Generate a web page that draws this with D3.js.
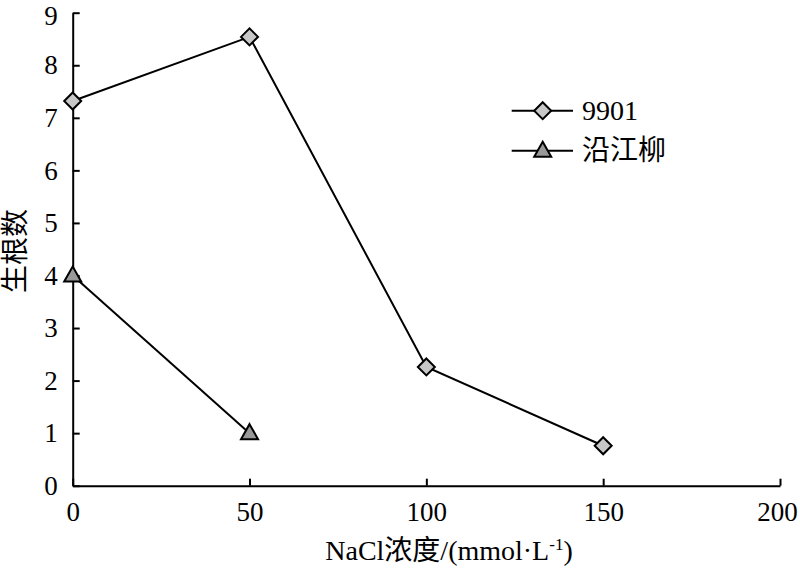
<!DOCTYPE html>
<html><head><meta charset="utf-8">
<script src="https://cdn.jsdelivr.net/npm/d3@7"></script>
<style>body{margin:0;background:#fff} text{font-family:"Liberation Serif","Times New Roman","Noto Sans CJK SC",serif;}</style>
</head><body>
<svg id="c" width="800" height="571"></svg>
<script>
const xTicks = [0, 50, 100, 150, 200];
const yTicks = [0, 1, 2, 3, 4, 5, 6, 7, 8, 9];
const seriesNames = ["9901", "沿江柳"];
const x9901 = [0, 50, 100, 150];
const y9901 = [7.32, 8.54, 2.26, 0.76];
const xYjl = [0, 50];
const yYjl = [4.0, 1.0];
const xTitle = "NaCl浓度/(mmol·L";
const yTitle = "生根数";

const svg = d3.select("#c");
const FS = 27;
const x = d3.scaleLinear().domain([0, 200]).range([72.7, 780]);
const y = d3.scaleLinear().domain([0, 9]).range([485.7, 12.7]);

const xAxis = svg.append("g").attr("transform", `translate(0,${y(0)})`)
  .call(d3.axisBottom(x).tickValues(xTicks).tickSize(-7).tickPadding(17).tickSizeOuter(0));
const yAxis = svg.append("g").attr("transform", `translate(${x(0)},0)`)
  .call(d3.axisLeft(y).tickValues(yTicks).tickSize(-7).tickPadding(15).tickSizeOuter(0));
[xAxis, yAxis].forEach(a => {
  a.attr("font-family", null).attr("font-size", null);
  a.selectAll("path").attr("stroke", "#000").attr("stroke-width", 2);
  a.selectAll("line").attr("stroke", "#000").attr("stroke-width", 2);
  a.selectAll("text").attr("font-size", FS).attr("fill", "#000");
});
xAxis.selectAll("text").attr("dy", "0.68em");
xAxis.selectAll(".tick:last-of-type text").attr("dx", -3);
yAxis.selectAll(".tick:last-of-type text").attr("y", 3);

const line = d3.line().x(d => x(d[0])).y(d => y(d[1]));
const d1 = x9901.map((v, i) => [v, y9901[i]]);
const d2 = xYjl.map((v, i) => [v, yYjl[i]]);
svg.append("path").attr("d", line(d1)).attr("fill", "none").attr("stroke", "#000").attr("stroke-width", 2);
svg.append("path").attr("d", line(d2)).attr("fill", "none").attr("stroke", "#000").attr("stroke-width", 2);

function drawDiamond(g, cx, cy) {
  const r = 8.5;
  g.append("path").attr("d", `M${cx},${cy - r}L${cx + r},${cy}L${cx},${cy + r}L${cx - r},${cy}Z`)
    .attr("fill", "#c8c8c8").attr("stroke", "#000").attr("stroke-width", 2);
}
function drawTri(g, cx, cy) {
  const w = 8.5, h = 15;
  g.append("path").attr("d", `M${cx},${cy - h * 0.6}L${cx + w},${cy + h * 0.4}L${cx - w},${cy + h * 0.4}Z`)
    .attr("fill", "#999").attr("stroke", "#000").attr("stroke-width", 2);
}
d1.forEach(d => drawDiamond(svg, x(d[0]), y(d[1])));
d2.forEach(d => drawTri(svg, x(d[0]), y(d[1])));

// legend
const lg = svg.append("g");
[[110.7, drawDiamond], [150.7, drawTri]].forEach(([ly, fn], i) => {
  lg.append("line").attr("x1", 511.7).attr("x2", 573).attr("y1", ly).attr("y2", ly)
    .attr("stroke", "#000").attr("stroke-width", 2);
  fn(lg, 542.7, ly);
  lg.append("text").attr("x", 582).attr("y", ly).attr("dy", "0.34em")
    .attr("font-size", 28).attr("fill", "#000").text(seriesNames[i]);
});

// titles
const xt = svg.append("text").attr("x", 449).attr("y", 560).attr("text-anchor", "middle")
  .attr("font-size", 28).attr("fill", "#000");
xt.append("tspan").text(xTitle);
xt.append("tspan").attr("dy", -10).attr("font-size", 17).text("-1");
xt.append("tspan").attr("dy", 10).text(")");
svg.append("text").attr("transform", "translate(15,251) rotate(-90)").attr("text-anchor", "middle")
  .attr("dy", "0.36em").attr("font-size", 28).attr("fill", "#000").text(yTitle);
</script>
</body></html>
